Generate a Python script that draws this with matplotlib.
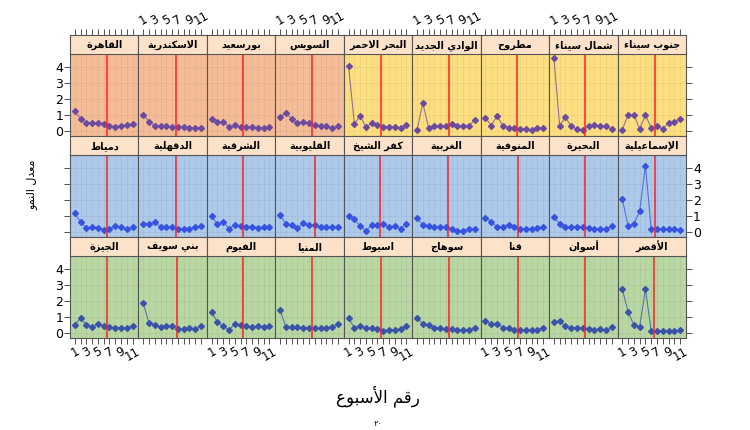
import matplotlib
matplotlib.use('Agg')
import matplotlib.pyplot as plt

# الأسابيع ومعدل النمو لكل محافظة
weeks = list(range(1, 12))

governorates = [
    'القاهرة', 'الاسكندرية', 'بورسعيد', 'السويس', 'البحر الاحمر',
    'الوادي الجديد', 'مطروح', 'شمال سيناء', 'جنوب سيناء',
    'دمياط', 'الدقهلية', 'الشرقية', 'القليوبية', 'كفر الشيخ',
    'الغربية', 'المنوفية', 'البحيرة', 'الإسماعيلية',
    'الجيزة', 'بني سويف', 'الفيوم', 'المنيا', 'اسيوط',
    'سوهاج', 'قنا', 'أسوان', 'الأقصر',
]

growth = [
    [1.22, 0.78, 0.51, 0.51, 0.51, 0.46, 0.32, 0.27, 0.34, 0.36, 0.44],
    [1.03, 0.59, 0.34, 0.34, 0.29, 0.27, 0.23, 0.27, 0.17, 0.19, 0.19],
    [0.74, 0.57, 0.55, 0.27, 0.38, 0.23, 0.27, 0.23, 0.21, 0.19, 0.23],
    [0.88, 1.12, 0.78, 0.48, 0.57, 0.48, 0.38, 0.34, 0.32, 0.17, 0.29],
    [4.06, 0.44, 0.95, 0.25, 0.48, 0.38, 0.27, 0.27, 0.27, 0.17, 0.38],
    [0.04, 1.75, 0.21, 0.29, 0.34, 0.34, 0.46, 0.34, 0.29, 0.34, 0.69],
    [0.84, 0.34, 0.95, 0.34, 0.21, 0.17, 0.13, 0.13, 0.08, 0.17, 0.17],
    [4.57, 0.34, 0.86, 0.29, 0.13, 0.04, 0.29, 0.38, 0.29, 0.29, 0.13],
    [0.08, 1.03, 1.03, 0.13, 0.99, 0.21, 0.29, 0.13, 0.51, 0.59, 0.74],
    [1.17, 0.64, 0.26, 0.30, 0.26, 0.15, 0.21, 0.38, 0.30, 0.19, 0.30],
    [0.49, 0.53, 0.60, 0.34, 0.34, 0.30, 0.21, 0.21, 0.21, 0.30, 0.40],
    [0.98, 0.49, 0.64, 0.21, 0.47, 0.38, 0.34, 0.34, 0.26, 0.30, 0.34],
    [1.04, 0.51, 0.43, 0.26, 0.55, 0.43, 0.43, 0.34, 0.30, 0.30, 0.34],
    [1.02, 0.79, 0.38, 0.09, 0.43, 0.43, 0.51, 0.30, 0.38, 0.21, 0.51],
    [0.85, 0.47, 0.38, 0.30, 0.34, 0.34, 0.17, 0.09, 0.09, 0.17, 0.17],
    [0.89, 0.64, 0.30, 0.34, 0.47, 0.30, 0.21, 0.21, 0.21, 0.26, 0.34],
    [0.94, 0.51, 0.34, 0.34, 0.34, 0.30, 0.26, 0.17, 0.17, 0.17, 0.38],
    [2.04, 0.38, 0.51, 1.30, 4.15, 0.17, 0.17, 0.17, 0.17, 0.17, 0.13],
    [0.51, 0.93, 0.51, 0.38, 0.55, 0.42, 0.38, 0.34, 0.34, 0.34, 0.42],
    [1.89, 0.61, 0.51, 0.38, 0.46, 0.42, 0.25, 0.25, 0.34, 0.25, 0.42],
    [1.31, 0.67, 0.42, 0.21, 0.55, 0.51, 0.42, 0.38, 0.42, 0.38, 0.46],
    [1.43, 0.38, 0.38, 0.38, 0.34, 0.34, 0.29, 0.29, 0.34, 0.38, 0.55],
    [0.91, 0.34, 0.42, 0.34, 0.29, 0.25, 0.13, 0.21, 0.21, 0.25, 0.42],
    [0.93, 0.59, 0.51, 0.34, 0.34, 0.25, 0.25, 0.21, 0.21, 0.21, 0.34],
    [0.76, 0.59, 0.59, 0.34, 0.29, 0.21, 0.21, 0.21, 0.21, 0.21, 0.34],
    [0.67, 0.76, 0.42, 0.34, 0.34, 0.34, 0.25, 0.17, 0.25, 0.17, 0.38],
    [2.74, 1.31, 0.51, 0.38, 2.74, 0.13, 0.13, 0.13, 0.13, 0.13, 0.17],
]

# موضع الخط الأحمر (الأسبوع الفاصل) لكل لوحة
cut_week = [
    6.6, 6.7, 6.4, 6.6, 6.6, 6.5, 6.45, 6.45, 6.6,
    6.6, 6.7, 6.5, 7.1, 6.5, 6.4, 6.6, 6.45, 6.6,
    6.6, 6.9, 6.5, 6.6, 6.6, 6.5, 6.6, 6.45, 6.45,
]

x_ticks = list(range(1, 12))
x_labels = ['1', '', '3', '', '5', '', '7', '', '9', '', '11']
y_ticks = [0, 1, 2, 3, 4]

xlab = 'رقم الأسبوع'
ylab = 'معدل النمو'
page_no = '٢٠'

# تشكيل الحروف العربية (matplotlib لا يدعم التشكيل ولا الاتجاه من اليمين)
FORMS = {
    'ء': ('\uFE80', None, None, None),
    'أ': ('\uFE83', '\uFE84', None, None),
    'إ': ('\uFE87', '\uFE88', None, None),
    'ا': ('\uFE8D', '\uFE8E', None, None),
    'ب': ('\uFE8F', '\uFE90', '\uFE91', '\uFE92'),
    'ة': ('\uFE93', '\uFE94', None, None),
    'ج': ('\uFE9D', '\uFE9E', '\uFE9F', '\uFEA0'),
    'ح': ('\uFEA1', '\uFEA2', '\uFEA3', '\uFEA4'),
    'خ': ('\uFEA5', '\uFEA6', '\uFEA7', '\uFEA8'),
    'د': ('\uFEA9', '\uFEAA', None, None),
    'ر': ('\uFEAD', '\uFEAE', None, None),
    'ز': ('\uFEAF', '\uFEB0', None, None),
    'س': ('\uFEB1', '\uFEB2', '\uFEB3', '\uFEB4'),
    'ش': ('\uFEB5', '\uFEB6', '\uFEB7', '\uFEB8'),
    'ص': ('\uFEB9', '\uFEBA', '\uFEBB', '\uFEBC'),
    'ط': ('\uFEC1', '\uFEC2', '\uFEC3', '\uFEC4'),
    'ع': ('\uFEC9', '\uFECA', '\uFECB', '\uFECC'),
    'غ': ('\uFECD', '\uFECE', '\uFECF', '\uFED0'),
    'ف': ('\uFED1', '\uFED2', '\uFED3', '\uFED4'),
    'ق': ('\uFED5', '\uFED6', '\uFED7', '\uFED8'),
    'ك': ('\uFED9', '\uFEDA', '\uFEDB', '\uFEDC'),
    'ل': ('\uFEDD', '\uFEDE', '\uFEDF', '\uFEE0'),
    'م': ('\uFEE1', '\uFEE2', '\uFEE3', '\uFEE4'),
    'ن': ('\uFEE5', '\uFEE6', '\uFEE7', '\uFEE8'),
    'ه': ('\uFEE9', '\uFEEA', '\uFEEB', '\uFEEC'),
    'و': ('\uFEED', '\uFEEE', None, None),
    'ي': ('\uFEF1', '\uFEF2', '\uFEF3', '\uFEF4'),
}
LAM_ALEF = {'ا': ('\uFEFB', '\uFEFC', None, None),
            'أ': ('\uFEF7', '\uFEF8', None, None),
            'إ': ('\uFEF9', '\uFEFA', None, None)}


def shape_ar(s):
    toks = []
    i = 0
    while i < len(s):
        c = s[i]
        if c == 'ل' and i + 1 < len(s) and s[i + 1] in LAM_ALEF:
            toks.append(LAM_ALEF[s[i + 1]])
            i += 2
            continue
        toks.append(FORMS.get(c, c))
        i += 1
    out = []
    for k, t in enumerate(toks):
        if isinstance(t, str):
            out.append(t)
            continue
        prev_j = k > 0 and not isinstance(toks[k - 1], str) and toks[k - 1][2] is not None
        next_j = t[2] is not None and k + 1 < len(toks) and not isinstance(toks[k + 1], str)
        if prev_j and next_j:
            out.append(t[3])
        elif prev_j:
            out.append(t[1])
        elif next_j:
            out.append(t[2])
        else:
            out.append(t[0])
    return ''.join(out[::-1])


plt.rcParams['font.family'] = ['DejaVu Sans']

W, H = 750, 430
fig = plt.figure(figsize=(W / 100, H / 100), dpi=100)

x0, x1 = 70, 686
colw = (x1 - x0) / 9
top0 = 35
row_h = 101
strip_h = 18.5

bg_orange = '#F5BC98'
bg_yellow = '#FDDF82'
bg_blue = '#ADCAEA'
bg_green = '#B9D7A2'
strip_col = '#FDE2CA'
line_cols = ['#6C4A9E', '#3553E0', '#3853A8']
edge = '#555555'


def fx(px):
    return px / W


def fy(py):
    return 1 - py / H


for r in range(3):
    for c in range(9):
        idx = r * 9 + c
        left = x0 + c * colw
        s_top = top0 + r * row_h
        p_top = s_top + strip_h
        p_bot = s_top + row_h

        # اللوحة
        ax = fig.add_axes([fx(left), fy(p_bot), colw / W, (p_bot - p_top) / H])
        if r == 0:
            bg = bg_orange if c < 4 else bg_yellow
        elif r == 1:
            bg = bg_blue
        else:
            bg = bg_green
        ax.set_facecolor(bg)
        ax.set_xlim(0.17, 12.03)
        ax.set_ylim(-0.31, 4.84)
        for g in x_ticks:
            ax.axvline(g, color='k', alpha=0.05, lw=0.6, zorder=0)
        for g in y_ticks:
            ax.axhline(g, color='k', alpha=0.05, lw=0.6, zorder=0)
        ax.plot(weeks, growth[idx], color=line_cols[r], lw=0.8, alpha=0.75, zorder=2)
        ax.plot(weeks, growth[idx], ls='none', marker='D', ms=3,
                color=line_cols[r], zorder=3)
        ax.axvline(cut_week[idx], color='#FF2020', lw=1.1, zorder=4)
        for sp in ax.spines.values():
            sp.set_color(edge)
            sp.set_linewidth(0.8)

        ax.set_xticks(x_ticks)
        ax.set_yticks(y_ticks)
        ax.tick_params(direction='out', length=4, width=0.6, color='#333333',
                       labelsize=9, pad=1)
        # محور x السفلي في الصف الأخير فقط
        if r == 2:
            ax.tick_params(axis='x', bottom=True, top=False, labelsize=8.5)
            if c % 2 == 0:
                ax.set_xticklabels(x_labels, rotation=30)
            else:
                ax.set_xticklabels([])
        else:
            ax.tick_params(axis='x', bottom=False, top=False, labelbottom=False)
        # محور y
        show_left = c == 0
        show_right = c == 8
        ax.tick_params(axis='y', left=show_left, right=show_right,
                       labelleft=show_left and r != 1,
                       labelright=show_right and r == 1)

        # شريط العنوان
        sax = fig.add_axes([fx(left), fy(p_top), colw / W, strip_h / H])
        sax.set_facecolor(strip_col)
        sax.set_xlim(0.17, 12.03)
        sax.set_yticks([])
        for sp in sax.spines.values():
            sp.set_color(edge)
            sp.set_linewidth(0.8)
        sax.text(0.5, 0.45, shape_ar(governorates[idx]), transform=sax.transAxes,
                 ha='center', va='center', fontsize=7, fontweight='bold')
        if r == 0:
            sax.set_xticks(x_ticks)
            sax.tick_params(axis='x', bottom=False, top=True, labelbottom=False,
                            labeltop=(c % 2 == 1), direction='out', length=4,
                            width=0.6, color='#333333', labelsize=8.5, pad=1)
            if c % 2 == 1:
                sax.set_xticklabels(x_labels, rotation=30)
        else:
            sax.set_xticks([])

fig.text(fx(32), fy(185), shape_ar(ylab), rotation=90, ha='center', va='center',
         fontsize=8)
fig.text(fx(378), fy(396), shape_ar(xlab), ha='center', va='center', fontsize=12)
fig.text(fx(378), fy(424), page_no, ha='center', va='center', fontsize=6)

fig.savefig('out.png', dpi=100)
